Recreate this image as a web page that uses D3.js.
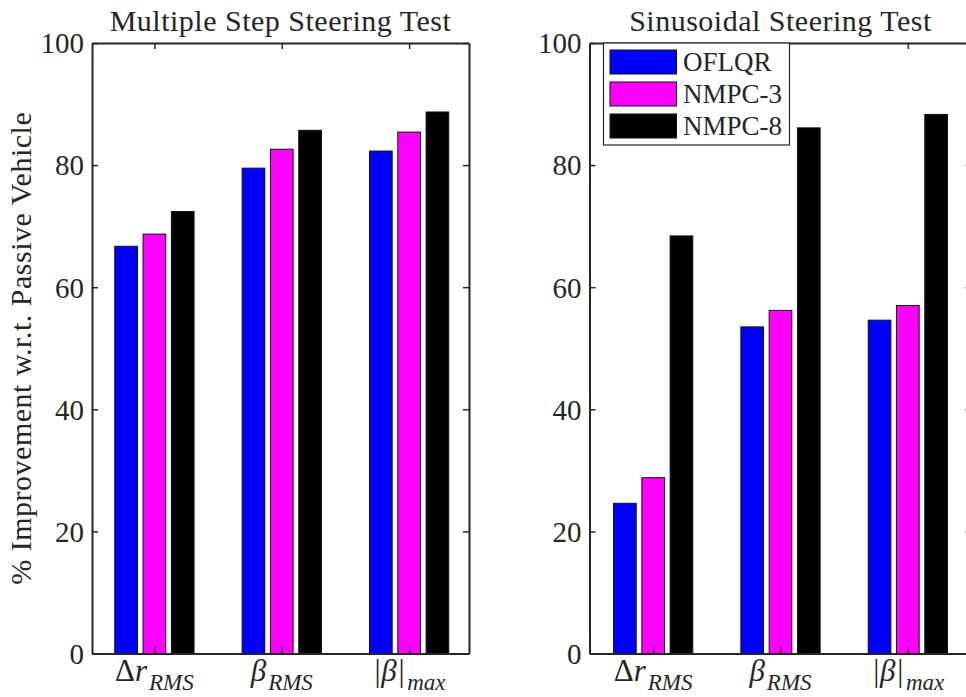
<!DOCTYPE html>
<html>
<head>
<meta charset="utf-8">
<script src="https://cdn.jsdelivr.net/npm/d3@7/dist/d3.min.js"></script>
<style>
  html, body { margin: 0; padding: 0; background: #fff; }
  svg { display: block; }
  text { font-family: "Liberation Serif", "Times New Roman", serif; fill: #262626; }
</style>
</head>
<body>
<svg id="chart" width="966" height="697"></svg>
<script>
// Metrics shown on the x axis (main symbol + subscript)
const metricMain = ["Δr", "β", "|β|"];
const metricSub = ["RMS", "RMS", "max"];
const controllers = ["OFLQR", "NMPC-3", "NMPC-8"];
const barColors = ["#0000ff", "#ff00ff", "#000000"];

// % improvement, multiple step steering test
const stepOFLQR = [66.7, 79.5, 82.3];
const stepNMPC3 = [68.7, 82.6, 85.4];
const stepNMPC8 = [72.4, 85.7, 88.7];

// % improvement, sinusoidal steering test
const sineOFLQR = [24.6, 53.5, 54.6];
const sineNMPC3 = [28.8, 56.2, 57.0];
const sineNMPC8 = [68.4, 86.1, 88.3];

const yTicks = [0, 20, 40, 60, 80, 100];
const panelTitles = ["Multiple Step Steering Test", "Sinusoidal Steering Test"];
const yLabel = "% Improvement w.r.t. Passive Vehicle";

const svg = d3.select("#chart");
const axisColor = "#262626";
const plotTop = 43, plotBottom = 653.5;
const y = d3.scaleLinear().domain([0, 100]).range([plotBottom, plotTop]);

// grouped bar geometry (in category units)
const groupOffset = 0.2222;
const barWidth = 0.178;

function drawPanel(opts) {
  const x = d3.scaleLinear().domain(opts.domain).range(opts.range);
  const g = svg.append("g");
  const series = opts.series;

  // bars
  series.forEach((vals, si) => {
    g.append("g").selectAll("rect")
      .data(vals)
      .join("rect")
      .attr("x", (d, i) => x(i + 1 + (si - 1) * groupOffset - barWidth / 2))
      .attr("width", x(barWidth) - x(0))
      .attr("y", d => y(d))
      .attr("height", d => y(0) - y(d))
      .attr("fill", barColors[si])
      .attr("stroke", "#111")
      .attr("stroke-width", 1);
  });

  const [x0, x1] = opts.range;
  const cats = [1, 2, 3];

  // box axes with inward ticks
  const left = g.append("g").attr("transform", `translate(${x0},0)`)
    .call(d3.axisLeft(y).tickValues(yTicks).tickSizeInner(-6).tickSizeOuter(0).tickPadding(8));
  const right = g.append("g").attr("transform", `translate(${x1},0)`)
    .call(d3.axisRight(y).tickValues(yTicks).tickSizeInner(-6).tickSizeOuter(0).tickFormat(""));
  const topAx = g.append("g").attr("transform", `translate(0,${plotTop})`)
    .call(d3.axisTop(x).tickValues(cats).tickSizeInner(-6).tickSizeOuter(0).tickFormat(""));
  const botAx = g.append("g").attr("transform", `translate(0,${plotBottom})`)
    .call(d3.axisBottom(x).tickValues(cats).tickSizeInner(-6).tickSizeOuter(0).tickFormat(""));

  [left, right, topAx, botAx].forEach(a => {
    a.select(".domain").attr("stroke", axisColor).attr("stroke-width", 2);
    a.selectAll(".tick line").attr("stroke", axisColor).attr("stroke-width", 1.5);
  });
  left.selectAll(".tick text")
    .style("font-family", "'Liberation Serif', serif")
    .style("font-size", "29px")
    .attr("fill", axisColor)
    .attr("dy", "0.34em");

  // category labels
  const lab = g.append("g").selectAll("text")
    .data(cats)
    .join("text")
    .attr("x", d => x(d))
    .attr("y", 681)
    .attr("text-anchor", "middle")
    .style("font-size", "31px");
  lab.each(function(d, i) {
    const t = d3.select(this);
    const main = metricMain[i];
    if (main.startsWith("Δ")) {
      t.append("tspan").text("Δ");
      t.append("tspan").style("font-style", "italic").text(main.slice(1));
    } else {
      t.append("tspan").style("font-style", "italic").text(main);
    }
    t.append("tspan").style("font-style", "italic").style("font-size", "23px")
      .attr("dy", 9).attr("dx", 2).text(metricSub[i]);
  });

  // title
  g.append("text")
    .attr("x", (x0 + x1) / 2)
    .attr("y", 31)
    .attr("text-anchor", "middle")
    .style("font-size", "30px")
    .style("letter-spacing", "0.5px")
    .attr("fill", "#000")
    .text(opts.title);

  return x;
}

drawPanel({
  title: panelTitles[0],
  domain: [0.51, 3.47],
  range: [92, 469],
  series: [stepOFLQR, stepNMPC3, stepNMPC8]
});

drawPanel({
  title: panelTitles[1],
  domain: [0.5, 3.5],
  range: [589.5, 971.5],
  series: [sineOFLQR, sineNMPC3, sineNMPC8]
});

// y axis label
svg.append("text")
  .attr("transform", `translate(31,${(plotTop + plotBottom) / 2}) rotate(-90)`)
  .attr("text-anchor", "middle")
  .style("font-size", "30px")
  .style("letter-spacing", "0.5px")
  .text(yLabel);

// legend inside the sinusoidal panel
const legend = svg.append("g").attr("transform", "translate(603.5,43)");
legend.append("rect")
  .attr("width", 186).attr("height", 102)
  .attr("fill", "#fff").attr("stroke", axisColor).attr("stroke-width", 1.2);
const rows = legend.selectAll("g.row")
  .data(controllers)
  .join("g")
  .attr("class", "row")
  .attr("transform", (d, i) => `translate(0,${7 + i * 32})`);
rows.append("rect")
  .attr("x", 6.5).attr("width", 66.5).attr("height", 24)
  .attr("fill", (d, i) => barColors[i])
  .attr("stroke", "#111").attr("stroke-width", 1);
rows.append("text")
  .attr("x", 79.5).attr("y", 12).attr("dy", "0.35em")
  .style("font-size", "27px")
  .attr("fill", "#000")
  .text(d => d);
</script>
</body>
</html>
